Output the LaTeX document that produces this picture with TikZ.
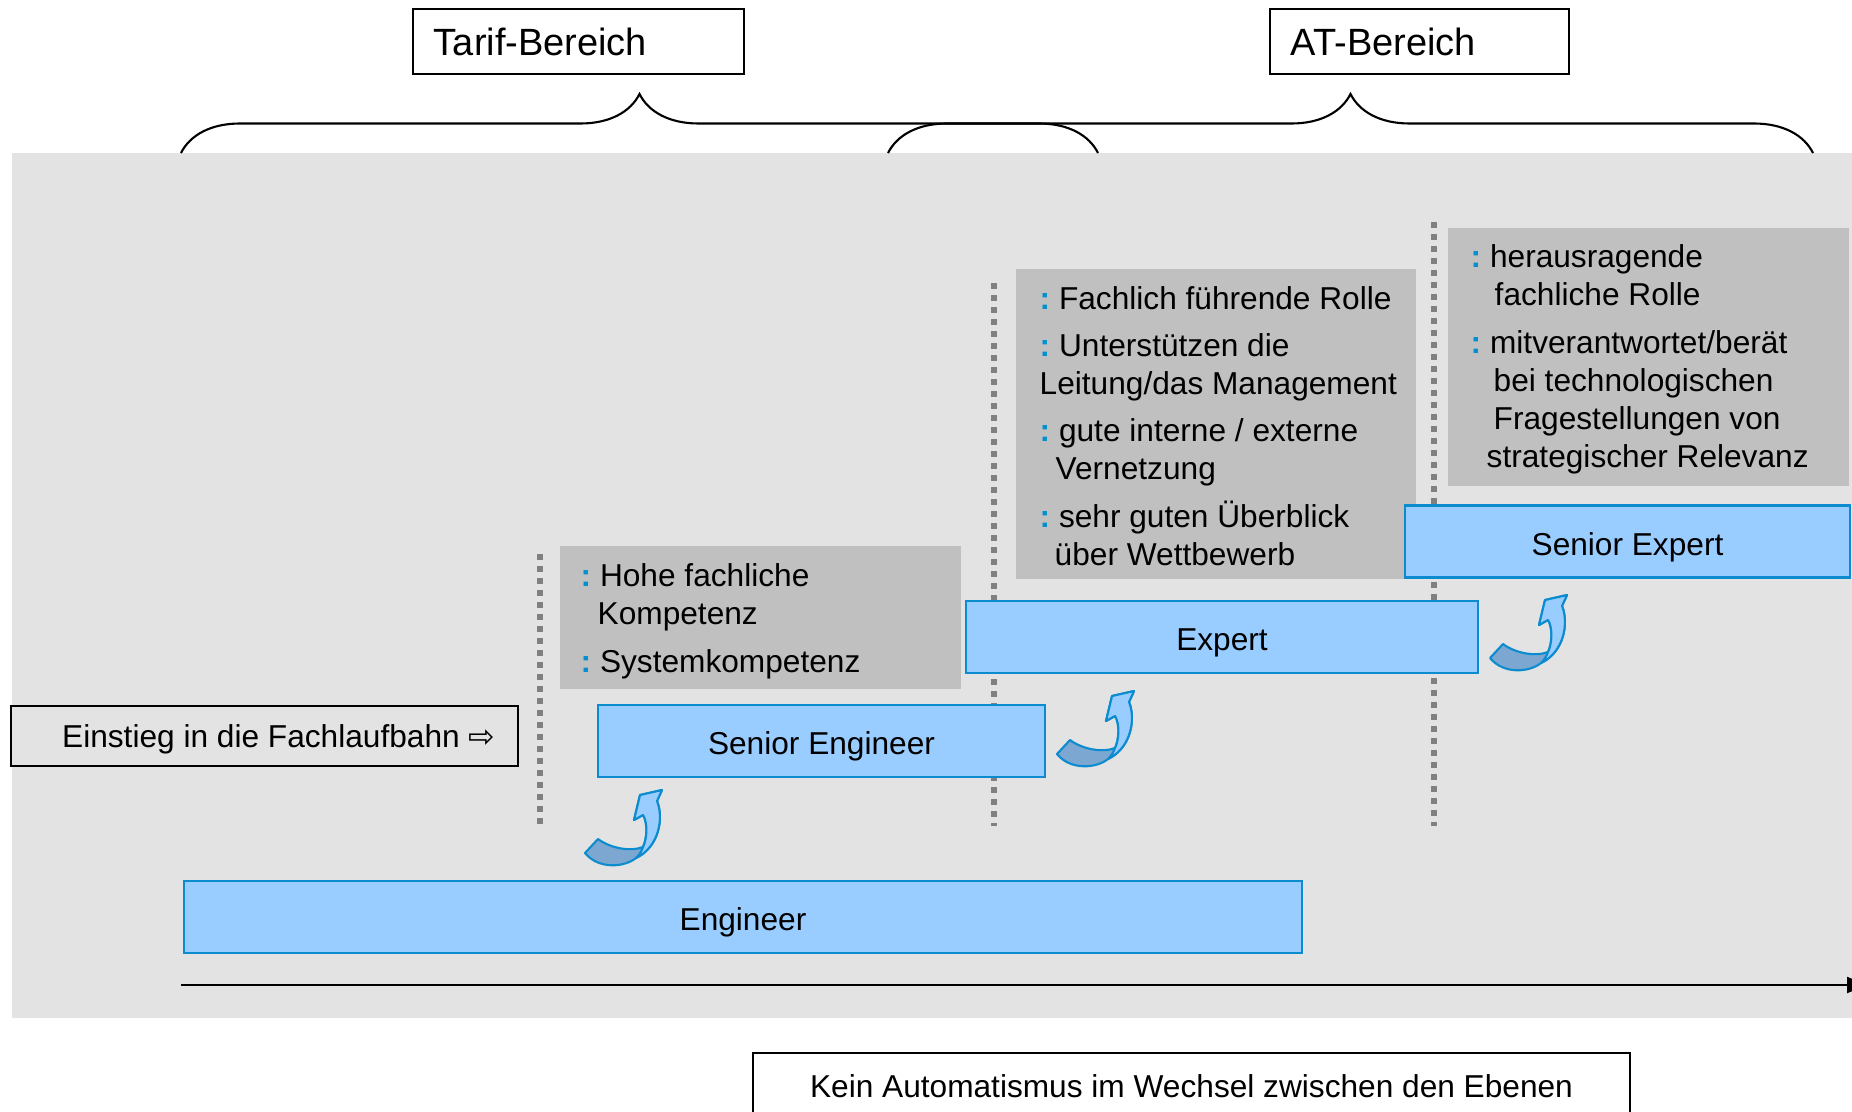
\documentclass[tikz,border=0pt]{standalone}
\usepackage{fontspec}
\setmainfont{Liberation Sans}
\newfontfamily\symfont{DejaVu Sans}
\usetikzlibrary{shapes,arrows.meta,positioning,decorations.pathreplacing}

\definecolor{bgGrey}{HTML}{E3E3E3}
\definecolor{boxGrey}{HTML}{C0C0C0}
\definecolor{stepFill}{HTML}{99CCFF}
\definecolor{stepLine}{HTML}{0C8CCF}
\definecolor{tailBlue}{HTML}{7BA7D1}
\definecolor{dotGrey}{HTML}{808080}
\definecolor{bulBlue}{HTML}{0090D0}

\newcommand{\lbul}{\textcolor{bulBlue}{\textbf{:}}\ }

\begin{document}
\begin{tikzpicture}[x=0.01cm, y=-0.01cm, font=\fontsize{9}{10.8}\selectfont]
    % Define styles
    \tikzstyle{rolebox} = [rectangle, draw=stepLine, fill=stepFill, line width=0.6pt, minimum height=0.72cm, inner sep=0pt, text height=7.7pt, text depth=0pt]
    \tikzstyle{skills} = [rectangle, fill=boxGrey, inner sep=0pt]
    \tikzstyle{bullets} = [align=left, inner sep=0pt, anchor=base west]
    \tikzstyle{areabox} = [rectangle, draw=black, fill=white, line width=0.5pt, align=left, minimum height=0.65cm, inner xsep=0.21cm, font=\fontsize{10.8}{13}\selectfont]
    \tikzstyle{plainbox} = [rectangle, draw=black, line width=0.5pt, minimum height=0.6cm]
    \tikzstyle{separator} = [dotGrey, line width=0.06cm, dash pattern=on 0.06cm off 0.06cm]
    \tikzstyle{areabrace} = [decorate, decoration={brace, amplitude=0.59cm}, line width=0.6pt]
    \tikzstyle{upturn} = [draw=stepLine, line width=0.6pt, line join=round]

    \useasboundingbox (0,0) rectangle (1852,1111);
    \clip (0,0) rectangle (1852,1111);

    % Background
    \fill[bgGrey] (12,153) rectangle (1852,1018);

    % Level borders
    \draw[separator] (540,554) -- (540,826);
    \draw[separator] (994,283) -- (994,826);
    \draw[separator] (1434,222) -- (1434,826);

    % Skill boxes
    \node[skills, minimum width=4.01cm, minimum height=1.43cm] (sengSkills) at (760.5,617.5) {};
    \node[skills, minimum width=4.00cm, minimum height=3.10cm] (expSkills) at (1216,424) {};
    \node[skills, minimum width=4.01cm, minimum height=2.58cm] (sexpSkills) at (1648.5,357) {};

    % (anchored at the baseline of the last line)
    \node[bullets] (sengText) at (580,672) {\lbul Hohe fachliche\\\hspace*{0.17cm}Kompetenz\\[2.6pt]\lbul Systemkompetenz};
    \node[bullets] (expText) at (1039,565) {\lbul Fachlich führende Rolle\\[2.6pt]\lbul Unterstützen die\\Leitung/das Management\\[2.6pt]\lbul gute interne / externe\\\hspace*{0.16cm}Vernetzung\\[2.6pt]\lbul sehr guten Überblick\\\hspace*{0.15cm}über Wettbewerb};
    \node[bullets] (sexpText) at (1470,467) {\lbul herausragende\\\hspace*{0.24cm}fachliche Rolle\\[2.6pt]\lbul mitverantwortet/berät\\\hspace*{0.23cm}bei technologischen\\\hspace*{0.23cm}Fragestellungen von\\\hspace*{0.16cm}strategischer Relevanz};

    % Career levels
    \node[rolebox, minimum width=11.18cm] (engineer) at (743,917) {Engineer};
    \node[rolebox, minimum width=4.47cm] (senEng) at (821.5,741) {Senior Engineer};
    \node[rolebox, minimum width=5.12cm] (expert) at (1222,637) {Expert};
    \node[rolebox, minimum width=4.45cm] (senExp) at (1627.5,541.5) {Senior Expert};

    % Step arrows
    \foreach \ax/\ay in {585/853, 1057/754, 1490/658} {
        \begin{scope}[shift={(\ax,\ay)}]
            \path[upturn, fill=tailBlue] (0,0) -- (13,-14) .. controls (25,-5) and (45,-1) .. (58,-6) .. controls (62,-14) and (63,-30) .. (58,-38) -- (49,-33) -- (55,-58) -- (77,-63) -- (72,-52) .. controls (79,-35) and (74,-6) .. (51,5) .. controls (40,14) and (14,17) .. (0,0) -- cycle;
            \path[upturn, fill=stepFill] (58,-38) -- (49,-33) -- (55,-58) -- (77,-63) -- (72,-52) .. controls (79,-35) and (74,-6) .. (51,5) .. controls (55,1) and (57,-3) .. (58,-6) .. controls (62,-14) and (63,-30) .. (58,-38) -- cycle;
        \end{scope}
    }

    % Entry
    \node[plainbox, minimum width=5.07cm, inner xsep=0.23cm, text depth=0pt] (entry) at (264.5,736) {\makebox[4.61cm][r]{Einstieg in die Fachlaufbahn {\symfont ⇨}}};

    % Time axis
    \coordinate (tStart) at (181,985);
    \coordinate (tEnd) at (1867,985);
    \draw[line width=0.6pt, -{Triangle[length=0.2cm, width=0.16cm]}] (tStart) -- (tEnd);

    % Note
    \node[plainbox, fill=white, minimum width=8.77cm, minimum height=0.67cm] (note) at (1191.5,1086.5) {Kein Automatismus im Wechsel zwischen den Ebenen};

    % Areas
    \node[areabox, text width=2.89cm] (tarif) at (578.5,41.5) {Tarif-Bereich};
    \node[areabox, text width=2.57cm] (atArea) at (1419.5,41.5) {AT-Bereich};
    \draw[areabrace] (181,153) -- (1098,153);
    \draw[areabrace] (888,153) -- (1813,153);
\end{tikzpicture}
\end{document}
